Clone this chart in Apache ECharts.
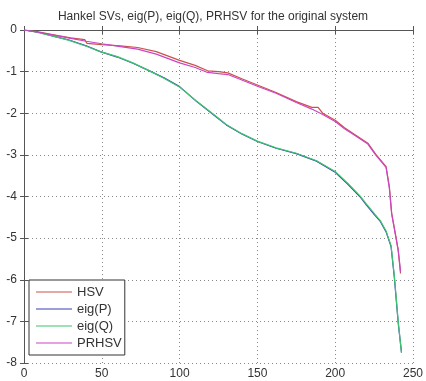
<!DOCTYPE html>
<html>
<head>
<meta charset="utf-8">
<style>html,body{margin:0;padding:0;background:#fff;}#c{width:426px;height:381px;}</style>
<script src="https://cdn.jsdelivr.net/npm/echarts@6/dist/echarts.min.js"></script>
</head>
<body>
<div id="c"></div>
<script>
var titleText = 'Hankel SVs, eig(P), eig(Q), PRHSV for the original system';
var seriesNames = ['HSV', 'eig(P)', 'eig(Q)', 'PRHSV'];
var xTicks = [0, 50, 100, 150, 200, 250];
var yTicks = [0, -1, -2, -3, -4, -5, -6, -7, -8];

var hsv = [[0,0],[5,-0.02],[10,-0.05],[20,-0.12],[30,-0.19],[39,-0.23],[40.5,-0.32],[50,-0.35],[62,-0.38],[73,-0.42],[85,-0.52],[100,-0.73],[110,-0.85],[118,-0.98],[125,-1.0],[131,-1.03],[140,-1.17],[150,-1.32],[162,-1.5],[175,-1.72],[185,-1.86],[189,-1.86],[192,-2.0],[200,-2.17],[206,-2.35],[213,-2.52],[221,-2.72],[226,-2.98],[232.7,-3.28],[234.8,-3.76],[236.3,-4.4],[239,-4.96],[240.5,-5.3],[242,-5.85]];
var eigP = [[0,0],[5,-0.03],[10,-0.06],[20,-0.16],[29,-0.24],[40,-0.38],[49,-0.52],[60,-0.65],[70,-0.8],[81.7,-1.0],[90,-1.15],[100,-1.36],[111,-1.72],[124,-2.1],[130,-2.28],[140,-2.5],[150,-2.68],[162,-2.84],[175,-2.97],[188,-3.15],[200,-3.42],[208,-3.7],[215.8,-4.0],[220,-4.2],[225.3,-4.44],[229,-4.6],[232.7,-4.85],[235.9,-5.2],[238,-5.94],[240.5,-7.04],[242.6,-7.74]];
var eigQ = [[0,0],[5,-0.03],[10,-0.07],[20,-0.16],[29,-0.25],[40,-0.39],[49,-0.52],[60,-0.64],[70,-0.79],[81.7,-1.0],[90,-1.16],[100,-1.37],[111,-1.71],[124,-2.09],[130,-2.27],[140,-2.49],[150,-2.67],[162,-2.83],[175,-2.96],[188,-3.14],[200,-3.4],[208,-3.68],[215.8,-3.98],[220,-4.18],[225.3,-4.42],[229,-4.58],[232.7,-4.83],[235.9,-5.18],[238,-5.9],[240.5,-7.0],[242.6,-7.76]];
var prhsv = [[0,0],[5,-0.03],[10,-0.06],[20,-0.13],[30,-0.2],[40,-0.27],[50,-0.33],[62,-0.4],[73,-0.46],[85,-0.58],[100,-0.79],[110,-0.9],[118,-1.02],[125,-1.05],[131,-1.07],[140,-1.2],[150,-1.35],[162,-1.52],[175,-1.74],[185,-1.9],[192,-2.03],[200,-2.2],[206,-2.37],[213,-2.54],[221,-2.74],[226,-3.0],[232.7,-3.3],[234.8,-3.8],[236.3,-4.42],[239,-4.98],[240.5,-5.28],[242,-5.8]];

var colors = ['#c9534c', '#3b3fb5', '#3fc46e', '#cc44c4'];
var font = 'Liberation Sans, Arial, sans-serif';

var chart = echarts.init(document.getElementById('c'), null, {renderer: 'canvas'});
function mkSeries(name, data, color) {
  return {name: name, type: 'line', data: data, symbol: 'none', showSymbol: false,
    lineStyle: {color: color, width: 1.2}, itemStyle: {color: color}, animation: false, xAxisIndex: 0, yAxisIndex: 0};
}
var lineIcon = 'path://M0,0 M36,14 M0,6.4 L36,6.4 L36,7.6 L0,7.6 Z';
var axisLine = {show: true, lineStyle: {color: '#555', width: 1}};
chart.setOption({
  animation: false,
  backgroundColor: '#fff',
  title: {text: titleText, left: 'center', top: 6, textStyle: {fontFamily: font, fontSize: 12, fontWeight: 'normal', color: '#333'}},
  grid: {left: 24, top: 30, right: 7, bottom: 18, containLabel: false},
  legend: {
    data: seriesNames, orient: 'vertical', left: 29, top: 280,
    icon: lineIcon,
    itemWidth: 36, itemHeight: 14, itemGap: 3, padding: [5, 3, 5, 7],
    borderColor: '#333', borderWidth: 1, backgroundColor: '#fff',
    textStyle: {fontFamily: font, fontSize: 13, color: '#333', padding: [0, 0, 0, 0]}
  },
  xAxis: [
    {type: 'value', min: 0, max: 250, interval: 50, position: 'bottom',
      axisLine: axisLine, axisTick: {show: true, inside: true, length: 4, lineStyle: {color: '#555'}},
      axisLabel: {fontFamily: font, fontSize: 12, color: '#333', margin: 5},
      splitLine: {show: true, lineStyle: {type: [1, 3], color: '#888', width: 1}}},
    {type: 'value', min: 0, max: 250, interval: 50, position: 'top',
      axisLine: axisLine, axisTick: {show: true, inside: true, length: 4, lineStyle: {color: '#555'}},
      axisLabel: {show: false}, splitLine: {show: false}}
  ],
  yAxis: [
    {type: 'value', min: -8, max: 0, interval: 1, position: 'left',
      axisLine: axisLine, axisTick: {show: true, inside: true, length: 4, lineStyle: {color: '#555'}},
      axisLabel: {fontFamily: font, fontSize: 12, color: '#333', margin: 7},
      splitLine: {show: true, lineStyle: {type: [1, 3], color: '#888', width: 1}}},
    {type: 'value', min: -8, max: 0, interval: 1, position: 'right',
      axisLine: axisLine, axisTick: {show: true, inside: true, length: 4, lineStyle: {color: '#555'}},
      axisLabel: {show: false}, splitLine: {show: false}}
  ],
  series: [
    mkSeries(seriesNames[0], hsv, colors[0]),
    mkSeries(seriesNames[1], eigP, colors[1]),
    mkSeries(seriesNames[2], eigQ, colors[2]),
    mkSeries(seriesNames[3], prhsv, colors[3])
  ]
});
</script>
</body>
</html>
